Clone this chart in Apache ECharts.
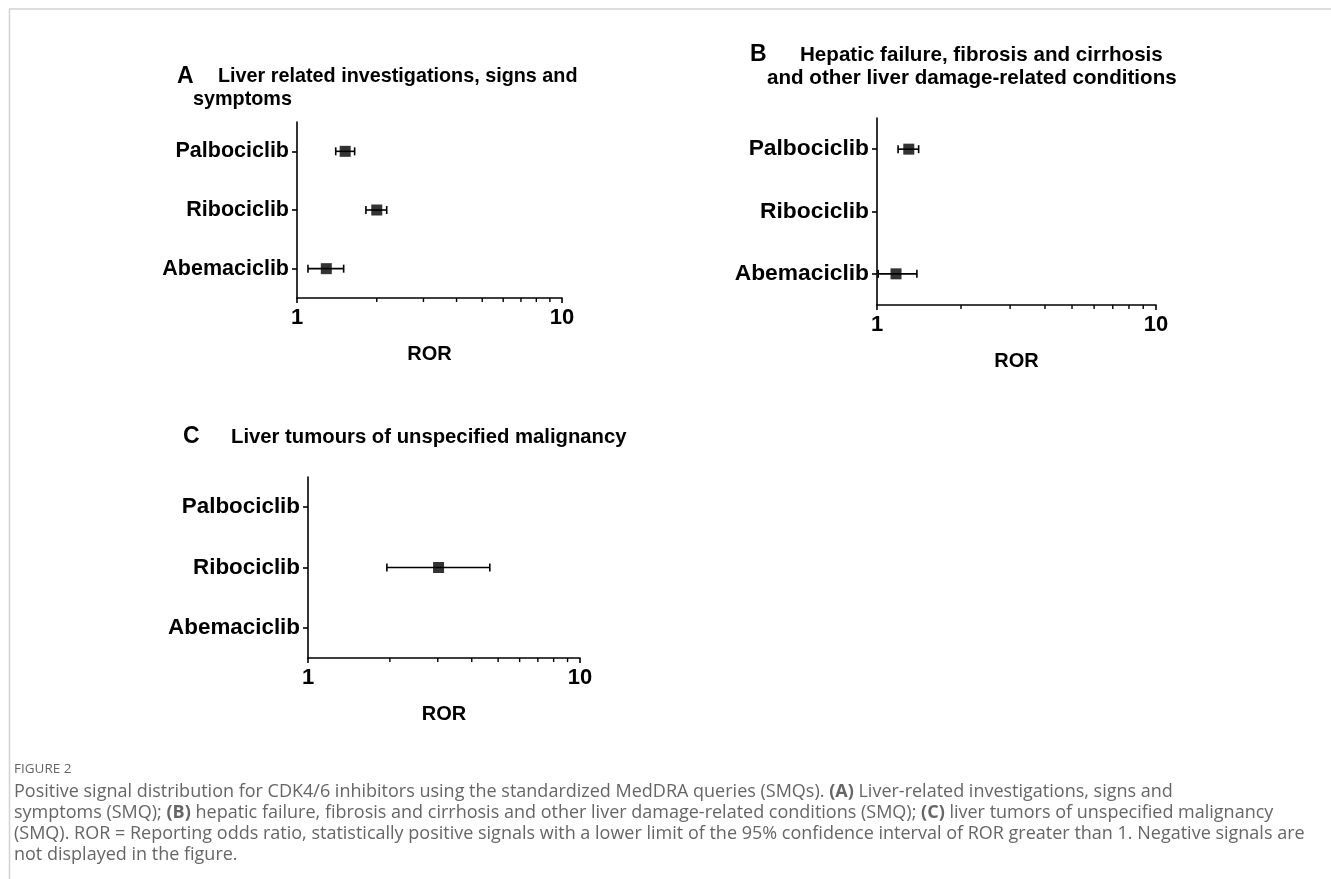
<!DOCTYPE html>
<html>
<head>
<meta charset="utf-8">
<script src="https://cdn.jsdelivr.net/npm/echarts@6/dist/echarts.min.js"></script>
<style>
html,body{margin:0;padding:0;background:#fff;}
#chart{width:1331px;height:879px;}
</style>
</head>
<body>
<div id="chart"></div>
<script>
// ---- Data ----
const categories = ['Palbociclib', 'Ribociclib', 'Abemaciclib'];
const xTickLabels = ['1', '10'];
const minorTicks = [2, 3, 4, 5, 6, 7, 8, 9];

// Panel A: Liver related investigations, signs and symptoms
const aDrugs = ['Palbociclib', 'Ribociclib', 'Abemaciclib'];
const aROR   = [1.52, 2.00, 1.29];
const aLow   = [1.40, 1.82, 1.10];
const aHigh  = [1.65, 2.18, 1.50];

// Panel B: Hepatic failure, fibrosis and cirrhosis ...
const bDrugs = ['Palbociclib', 'Abemaciclib'];
const bROR   = [1.30, 1.17];
const bLow   = [1.19, 1.01];
const bHigh  = [1.41, 1.39];

// Panel C: Liver tumours of unspecified malignancy
const cDrugs = ['Ribociclib'];
const cROR   = [3.02];
const cLow   = [1.95];
const cHigh  = [4.66];

const FONT = '"Liberation Sans", Arial, sans-serif';

const panels = [
  {drugs: aDrugs, ror: aROR, low: aLow, high: aHigh, grid: {left: 297, top: 122, width: 265, height: 176}, labelSize: 21.5, margin: 8},
  {drugs: bDrugs, ror: bROR, low: bLow, high: bHigh, grid: {left: 877, top: 118, width: 279, height: 187}, labelSize: 22.8, margin: 8},
  {drugs: cDrugs, ror: cROR, low: cLow, high: cHigh, grid: {left: 308, top: 477, width: 272, height: 181}, labelSize: 22.4, margin: 8}
];

const grids = [], xAxes = [], yAxes = [], series = [];
panels.forEach((p, i) => {
  grids.push(p.grid);
  xAxes.push({
    gridIndex: i, type: 'log', logBase: 10, min: 1, max: 10,
    name: 'ROR', nameLocation: 'middle', nameGap: 46,
    nameTextStyle: {fontFamily: FONT, fontWeight: 'bold', fontSize: 20, color: '#000'},
    axisLine: {show: true, onZero: false, lineStyle: {color: '#000', width: 1.6}},
    axisTick: {show: true, length: 5, lineStyle: {color: '#000', width: 1.6}},
    axisLabel: {fontFamily: FONT, fontWeight: 'bold', fontSize: 22, color: '#000', margin: 9,
      formatter: v => xTickLabels.includes(String(v)) ? String(v) : ''},
    splitLine: {show: false}
  });
  yAxes.push({
    gridIndex: i, type: 'category', data: categories, inverse: true,
    axisLine: {show: true, lineStyle: {color: '#000', width: 1.6}},
    axisTick: {show: true, alignWithLabel: true, length: 5, lineStyle: {color: '#000', width: 1.6}},
    axisLabel: {fontFamily: FONT, fontWeight: 'bold', fontSize: p.labelSize, color: '#000', margin: p.margin},
    splitLine: {show: false}
  });
  // minor log ticks
  series.push({
    type: 'custom', xAxisIndex: i, yAxisIndex: i, silent: true, clip: false,
    data: minorTicks.map(v => [v, 0]),
    encode: {x: 0, y: 1},
    renderItem: (params, api) => {
      const x = api.coord([api.value(0), 0])[0];
      const cs = params.coordSys;
      const b = cs.y + cs.height;
      return {type: 'line', shape: {x1: x, y1: b, x2: x, y2: b + 4},
        style: {stroke: '#000', lineWidth: 1.4}};
    }
  });
  // error bars
  series.push({
    type: 'custom', xAxisIndex: i, yAxisIndex: i, clip: false,
    data: p.drugs.map((d, k) => [p.low[k], p.high[k], categories.indexOf(d)]),
    encode: {x: [0, 1], y: 2},
    renderItem: (params, api) => {
      const l = api.coord([api.value(0), api.value(2)]);
      const h = api.coord([api.value(1), api.value(2)]);
      const c = 4;
      const st = {stroke: '#000', lineWidth: 1.6};
      return {type: 'group', children: [
        {type: 'line', shape: {x1: l[0], y1: l[1], x2: h[0], y2: h[1]}, style: st},
        {type: 'line', shape: {x1: l[0], y1: l[1] - c, x2: l[0], y2: l[1] + c}, style: st},
        {type: 'line', shape: {x1: h[0], y1: h[1] - c, x2: h[0], y2: h[1] + c}, style: st}
      ]};
    }
  });
  // point estimates
  series.push({
    type: 'scatter', xAxisIndex: i, yAxisIndex: i, symbol: 'rect', symbolSize: 11,
    itemStyle: {color: '#000'},
    data: p.drugs.map((d, k) => [p.ror[k], d]),
    z: 5
  });
});

const titleStyle = (x, y, text, size) => ({
  type: 'text', left: x, top: y,
  style: {text: text, fontFamily: FONT, fontWeight: 'bold', fontSize: size, fill: '#000'}
});

const capColor = '#666666';
const CAPFONT = '"Open Sans", "Noto Sans", sans-serif';
const captionLines = [
  'Positive signal distribution for CDK4/6 inhibitors using the standardized MedDRA queries (SMQs). {b|(A)} Liver-related investigations, signs and',
  'symptoms (SMQ); {b|(B)} hepatic failure, fibrosis and cirrhosis and other liver damage-related conditions (SMQ); {b|(C)} liver tumors of unspecified malignancy',
  '(SMQ). ROR = Reporting odds ratio, statistically positive signals with a lower limit of the 95% confidence interval of ROR greater than 1. Negative signals are',
  'not displayed in the figure.'
];

const graphic = [
  {type: 'line', shape: {x1: 9, y1: 9, x2: 1331, y2: 9}, style: {stroke: '#d2d2d2', lineWidth: 1.5}},
  {type: 'line', shape: {x1: 9.5, y1: 9, x2: 9.5, y2: 879}, style: {stroke: '#d2d2d2', lineWidth: 1.5}},
  titleStyle(177, 65, 'A', 23),
  titleStyle(218, 67, 'Liver related investigations, signs and', 19.8),
  titleStyle(193, 90, 'symptoms', 19.8),
  titleStyle(750, 43, 'B', 23),
  titleStyle(800, 45, 'Hepatic failure, fibrosis and cirrhosis', 20.6),
  titleStyle(767, 68, 'and other liver damage-related conditions', 20.6),
  titleStyle(183, 425, 'C', 23),
  titleStyle(231, 427, 'Liver tumours of unspecified malignancy', 20.3),
  {type: 'text', left: 14, top: 762, style: {text: 'FIGURE 2', fontFamily: CAPFONT, fontSize: 13.5, fill: capColor}}
];
captionLines.forEach((t, k) => {
  graphic.push({type: 'text', left: 14, top: 783 + k * 21,
    style: {text: t, fontFamily: CAPFONT, fontSize: 18, fill: capColor,
      rich: {b: {fontFamily: CAPFONT, fontSize: 18, fontWeight: 'bold', fill: capColor}}}});
});

const chart = echarts.init(document.getElementById('chart'));
chart.setOption({
  animation: false,
  backgroundColor: '#fff',
  grid: grids, xAxis: xAxes, yAxis: yAxes, series: series,
  graphic: graphic
});
</script>
</body>
</html>
